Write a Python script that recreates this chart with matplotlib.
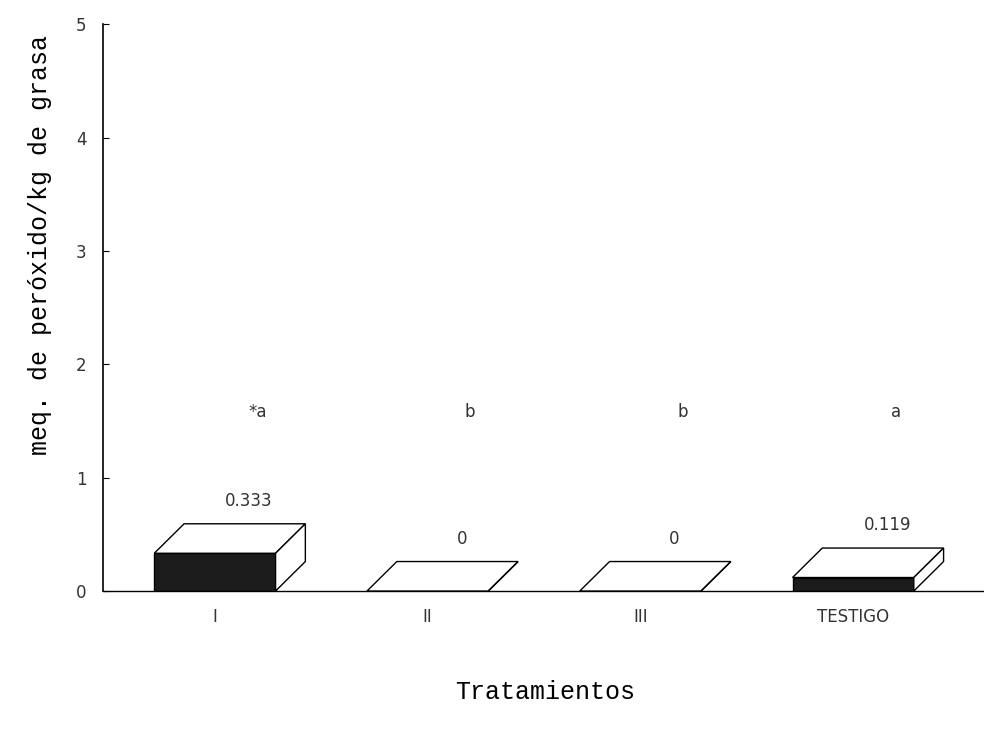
import matplotlib
matplotlib.use("Agg")
import matplotlib.pyplot as plt
from matplotlib.patches import Polygon, Rectangle

# datos
tratamientos = ['I', 'II', 'III', 'TESTIGO']
valores = [0.333, 0.0, 0.0, 0.119]
etiquetas_valor = ['0.333', '0', '0', '0.119']
letras = ['*a', 'b', 'b', 'a']

fig = plt.figure(figsize=(9.84, 7.36), dpi=100)
ax = fig.add_axes([0.1047, 0.197, 0.8953, 0.770])

ancho = 0.57      # ancho de la barra (unidades x)
dx = 0.14         # profundidad en x
dy = 0.26         # profundidad en y

for i, v in enumerate(valores):
    x0 = i - ancho / 2
    x1 = i + ancho / 2
    if v > 0:
        ax.add_patch(Rectangle((x0, 0), ancho, v, facecolor='#1c1c1c',
                               edgecolor='black', lw=1, zorder=3))
    # cara superior
    ax.add_patch(Polygon([(x0, v), (x0 + dx, v + dy), (x1 + dx, v + dy), (x1, v)],
                         closed=True, facecolor='white', edgecolor='black', lw=1, zorder=3))
    # cara lateral
    ax.add_patch(Polygon([(x1, 0), (x1 + dx, dy), (x1 + dx, v + dy), (x1, v)],
                         closed=True, facecolor='white', edgecolor='black', lw=1, zorder=3))
    ax.text(i + dx + 0.02, v + dy + 0.2, etiquetas_valor[i], ha='center', va='center',
            fontsize=12, family='DejaVu Sans', color='#333333')
    ax.text(i + 0.2, 1.58, letras[i], ha='center', va='center',
            fontsize=12, family='DejaVu Sans', color='#333333')

ax.set_xlim(-0.526, 3.615)
ax.set_ylim(0, 5)
ax.set_xticks(range(len(tratamientos)))
ax.set_xticklabels(tratamientos, fontsize=12, color='#333333')
ax.set_yticks([0, 1, 2, 3, 4, 5])
ax.set_yticklabels(['0', '1', '2', '3', '4', '5'], fontsize=12, color='#333333')
ax.tick_params(axis='y', direction='in', length=4, pad=12)
ax.tick_params(axis='x', length=0, pad=12)

for s in ['top', 'right']:
    ax.spines[s].set_visible(False)
ax.spines['left'].set_linewidth(1.2)
ax.spines['bottom'].set_linewidth(1.0)
ax.spines['bottom'].set_linestyle((0, (4, 1)))

fig.text(0.041, 0.667, 'meq. de peróxido/kg de grasa', family='Liberation Mono',
         fontsize=18, rotation=90, ha='center', va='center')
fig.text(0.554, 0.06, 'Tratamientos', family='Liberation Mono', fontsize=18,
         ha='center', va='center')

fig.savefig('out.png', dpi=100, facecolor='white')
